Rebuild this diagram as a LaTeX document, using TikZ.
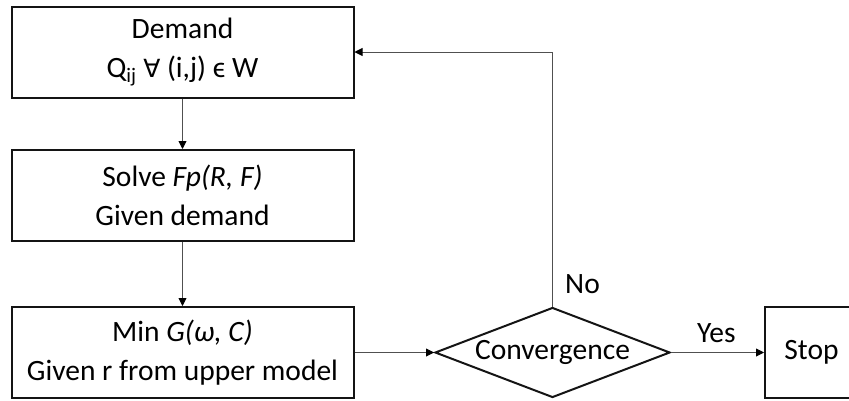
\documentclass[tikz,border=0pt]{standalone}
\usepackage{fontspec}
\setmainfont{Carlito}
\newfontfamily\symfont{DejaVu Sans}
\usetikzlibrary{shapes.geometric,arrows.meta}
\definecolor{edgegray}{RGB}{80,80,80}
\definecolor{boxline}{RGB}{20,20,20}
\begin{document}
\begin{tikzpicture}[x=1pt,y=-1pt,
  every node/.style={font=\fontsize{29.5}{39}\selectfont},
  procbox/.style={draw=boxline,line width=2pt,minimum width=342pt,minimum height=91pt,
    align=center,inner sep=0pt},
  decision/.style={diamond,draw=boxline,line width=2pt,minimum width=235pt,minimum height=90pt,
    inner sep=0pt,shape aspect=2.6},
  flow/.style={draw=edgegray,line width=0.9pt,-{Triangle[length=8pt,width=8pt,color=black]}},
  lbl/.style={inner sep=0pt,anchor=base west}]
  \useasboundingbox (0,0) rectangle (849,400);

  \node[procbox] (demand) at (182.5,52) {Demand\\Q\textsubscript{ij} {\symfont\fontsize{25}{39}\selectfont ∀} (i,j) ϵ W};
  \node[procbox] (solve)  at (182.5,195.5) {Solve \textit{Fp(R, F)}\\Given demand};
  \node[procbox] (minG)   at (182.5,352.5) {Min \textit{G(ω, C)}\\Given r from upper model};
  \node[decision] (conv)  at (552.5,352.5) {Convergence};
  \node[procbox,minimum width=93pt] (stop) at (811.5,352.5) {Stop};

  \draw[flow] (demand) -- (solve);
  \draw[flow] (solve) -- (minG);
  \draw[flow] (minG) -- (conv);
  \draw[flow] (conv) -- (stop);
  \draw[flow] (conv.north) |- (demand.east);

  \node[lbl] at (565,293) {No};
  \node[lbl] at (697,342) {Yes};
\end{tikzpicture}
\end{document}
